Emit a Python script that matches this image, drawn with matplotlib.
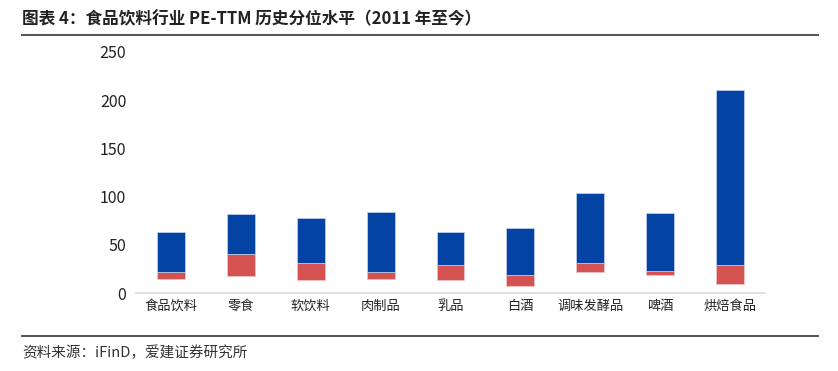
import numpy as np
import matplotlib
matplotlib.use('Agg')
import matplotlib.pyplot as plt
from matplotlib.lines import Line2D

plt.rcParams['font.family'] = ['Noto Sans CJK SC', 'DejaVu Sans']

# 行业 PE-TTM：历史最低 / 当前 / 历史最高
categories = ['食品饮料', '零食', '软饮料', '肉制品', '乳品', '白酒', '调味发酵品', '啤酒', '烘焙食品']
pe_min = [15.1, 17.9, 13.8, 15.1, 13.8, 7.9, 21.7, 19.3, 9.3]
pe_now = [21.7, 41.0, 31.4, 22.0, 29.3, 18.6, 31.7, 22.8, 29.6]
pe_max = [63.1, 82.1, 77.9, 84.5, 63.1, 67.9, 104.1, 83.4, 210.4]

blue = '#0343A3'
red = '#D55252'

x = np.arange(len(categories))
red_h = np.array(pe_now) - np.array(pe_min)
blue_h = np.array(pe_max) - np.array(pe_now)

fig = plt.figure(figsize=(8.38, 3.71), dpi=100)
ax = fig.add_axes([0.1623, 0.2094, 0.7506, 0.6513])

ax.bar(x, red_h, bottom=pe_min, width=0.4, color=red, edgecolor='#f0c8c8', linewidth=0.5)
ax.bar(x, blue_h, bottom=pe_now, width=0.4, color=blue, edgecolor='#c8d4ec', linewidth=0.5)

ax.set_xlim(-0.5, len(categories) - 0.5)
ax.set_ylim(0, 250)
ax.set_yticks([0, 50, 100, 150, 200, 250])
ax.set_xticks(x)
ax.set_xticklabels(categories, fontsize=9.5, color='#222222')
ax.tick_params(axis='y', labelsize=11.5, length=0, pad=7, colors='#222222')
ax.tick_params(axis='x', length=0, pad=5)
for s in ['top', 'right', 'left']:
    ax.spines[s].set_visible(False)
ax.spines['bottom'].set_color('#d9d9d9')
ax.spines['bottom'].set_linewidth(1.2)

# 标题与来源
fig.text(0.026, 0.948, '图表 4：食品饮料行业 PE-TTM 历史分位水平（2011 年至今）',
         fontsize=12, fontweight='bold', color='#222222', va='center', ha='left')
fig.add_artist(Line2D([0.026, 0.976], [0.907, 0.907], color='#595959', linewidth=1.5))
fig.add_artist(Line2D([0.026, 0.976], [0.094, 0.094], color='#595959', linewidth=1.5))
fig.text(0.026, 0.05, '资料来源：iFinD，爱建证券研究所', fontsize=10.5, color='#333333',
         va='center', ha='left')

fig.savefig('out.png', dpi=100)
